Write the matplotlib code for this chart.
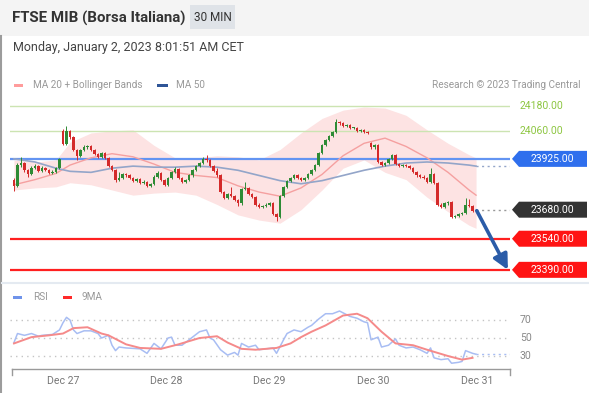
import matplotlib
matplotlib.use("Agg")
import matplotlib.pyplot as plt
from matplotlib.patches import Rectangle, Polygon
import numpy as np

plt.rcParams["font.family"] = ["Roboto", "DejaVu Sans"]

W, H = 589, 393

# 30-min candles
opens = [23825, 23795, 23895, 23905, 23870, 23850, 23880, 23890, 23865, 23880,
         23870, 23855, 23860, 23880, 24060, 23995, 24060, 24030, 23970, 23940,
         23970, 23980, 23985, 23970, 23950, 23935, 23955, 23930, 23890, 23870,
         23825, 23835, 23850, 23845, 23835, 23820, 23830, 23810, 23815, 23795,
         23805, 23840, 23855, 23825, 23800, 23835, 23860, 23875, 23835, 23815,
         23825, 23845, 23870, 23890, 23905, 23925, 23920, 23890, 23865, 23845,
         23765, 23735, 23755, 23745, 23725, 23710, 23780, 23785, 23755, 23740,
         23705, 23695, 23700, 23705, 23710, 23660, 23645, 23745, 23790, 23820,
         23835, 23845, 23835, 23825, 23835, 23850, 23870, 23895, 23955, 23990,
         24015, 24035, 24055, 24105, 24100, 24085, 24090, 24075, 24075, 24060,
         24065, 24055, 24000, 23980, 23990, 23910, 23895, 23905, 23925, 23945,
         23900, 23890, 23895, 23890, 23880, 23860, 23845, 23840, 23835, 23815,
         23850, 23810, 23705, 23695, 23710, 23715, 23645, 23650, 23660, 23665,
         23705, 23700, 23675]
highs = [23835, 23905, 23935, 23910, 23875, 23890, 23900, 23895, 23890, 23885,
         23875, 23870, 23885, 23930, 24070, 24085, 24065, 24035, 23975, 23975,
         23990, 23990, 23990, 23975, 23955, 23960, 23960, 23935, 23895, 23875,
         23860, 23855, 23855, 23850, 23840, 23835, 23835, 23825, 23820, 23810,
         23845, 23865, 23860, 23830, 23840, 23865, 23885, 23880, 23840, 23830,
         23850, 23875, 23895, 23910, 23935, 23945, 23925, 23895, 23880, 23850,
         23770, 23760, 23790, 23750, 23730, 23785, 23815, 23790, 23760, 23745,
         23710, 23705, 23710, 23715, 23715, 23665, 23750, 23795, 23825, 23840,
         23850, 23850, 23840, 23840, 23855, 23875, 23900, 23960, 23995, 24020,
         24040, 24060, 24115, 24110, 24105, 24095, 24095, 24080, 24080, 24070,
         24070, 24060, 24005, 23995, 23995, 23915, 23910, 23930, 23950, 23950,
         23905, 23900, 23900, 23895, 23885, 23865, 23850, 23845, 23840, 23880,
         23855, 23815, 23710, 23715, 23720, 23720, 23655, 23665, 23670, 23735,
         23730, 23705, 23685]
lows = [23770, 23790, 23885, 23860, 23840, 23845, 23875, 23860, 23860, 23865,
        23850, 23850, 23855, 23875, 23990, 23990, 24020, 23965, 23920, 23935,
        23965, 23975, 23965, 23945, 23930, 23930, 23925, 23885, 23865, 23815,
        23820, 23830, 23840, 23830, 23815, 23815, 23805, 23805, 23790, 23790,
        23800, 23835, 23820, 23795, 23795, 23830, 23855, 23830, 23810, 23810,
        23820, 23840, 23865, 23885, 23900, 23910, 23885, 23860, 23840, 23760,
        23730, 23730, 23740, 23720, 23700, 23705, 23775, 23750, 23735, 23700,
        23690, 23690, 23695, 23700, 23655, 23625, 23640, 23740, 23785, 23815,
        23830, 23830, 23820, 23820, 23830, 23845, 23865, 23890, 23950, 23985,
        24010, 24030, 24050, 24090, 24080, 24080, 24070, 24070, 24055, 24055,
        24050, 24045, 23975, 23975, 23905, 23890, 23890, 23900, 23920, 23895,
        23885, 23885, 23885, 23875, 23855, 23840, 23835, 23830, 23810, 23810,
        23805, 23700, 23690, 23690, 23705, 23640, 23640, 23645, 23655, 23660,
        23695, 23670, 23670]
closes = [23795, 23895, 23905, 23870, 23850, 23880, 23890, 23865, 23880, 23870,
          23855, 23860, 23880, 23925, 23995, 24060, 24030, 23970, 23940, 23970,
          23980, 23985, 23970, 23950, 23935, 23955, 23930, 23890, 23870, 23825,
          23835, 23850, 23845, 23835, 23820, 23830, 23810, 23815, 23795, 23805,
          23840, 23855, 23825, 23800, 23835, 23860, 23875, 23835, 23815, 23825,
          23845, 23870, 23890, 23905, 23925, 23920, 23890, 23865, 23845, 23765,
          23735, 23755, 23745, 23725, 23710, 23780, 23785, 23755, 23740, 23705,
          23695, 23700, 23705, 23710, 23660, 23645, 23745, 23790, 23820, 23835,
          23845, 23835, 23825, 23835, 23850, 23870, 23895, 23955, 23990, 24015,
          24035, 24055, 24105, 24100, 24085, 24090, 24075, 24075, 24060, 24065,
          24055, 24050, 23980, 23990, 23910, 23895, 23905, 23925, 23945, 23900,
          23890, 23895, 23890, 23880, 23860, 23845, 23840, 23835, 23815, 23850,
          23810, 23705, 23695, 23710, 23715, 23645, 23650, 23660, 23665, 23705,
          23700, 23675, 23680]

# indicator curves sampled at these bar numbers
band_idx = [0, 6, 12, 16, 22, 28, 34, 40, 46, 52, 58, 64, 70, 76, 82, 88,
            94, 100, 106, 112, 118, 124, 130, 132]
band_upper = [23920, 23910, 23920, 24005, 24050, 24060, 24065, 23990, 23930, 23930,
              23940, 23935, 23920, 23970, 24050, 24120, 24160, 24175, 24170, 24135,
              24065, 24000, 23945, 23930]
band_lower = [23775, 23785, 23790, 23810, 23800, 23775, 23750, 23760, 23765, 23750,
              23705, 23655, 23630, 23615, 23680, 23775, 23880, 23920, 23860, 23825,
              23740, 23670, 23605, 23590]
ma20 = [23800, 23825, 23855, 23895, 23930, 23950, 23935, 23900, 23860, 23845,
        23835, 23795, 23765, 23745, 23785, 23850, 23940, 24000, 24025, 23985,
        23930, 23860, 23775, 23750]
ma50 = [23925, 23910, 23880, 23865, 23860, 23880, 23890, 23885, 23885, 23890,
        23885, 23870, 23845, 23820, 23805, 23820, 23845, 23870, 23890, 23905,
        23910, 23905, 23895, 23890]

rsi_idx = [0, 1, 3, 5, 7, 8, 11, 13, 14, 15, 16, 17, 18, 20, 22, 24, 25, 27, 28, 29,
           30, 32, 36, 38, 40, 42, 44, 45, 46, 48, 50, 53, 55, 56, 57, 59, 61, 63, 64, 65,
           67, 69, 70, 72, 74, 75, 77, 78, 80, 82, 84, 85, 87, 89, 91, 93, 94, 96, 98, 100,
           101, 102, 104, 105, 107, 109, 110, 112, 114, 116, 118, 119, 120, 122, 124, 125,
           127, 128, 129, 131, 132]
rsi_val = [45, 55, 53, 55, 52, 53, 54, 59, 67, 73, 70, 59, 55, 58, 58, 55, 50, 53, 42, 36,
           40, 39, 38, 33, 44, 38, 50, 51, 42, 42, 48, 57, 59, 50, 48, 37, 31, 34, 31, 44,
           40, 42, 37, 38, 39, 33, 48, 55, 59, 57, 62, 64, 71, 77, 77, 80, 78, 74, 72, 68,
           67, 48, 51, 40, 42, 49, 42, 39, 40, 37, 33, 39, 28, 26, 27, 22,
           23, 24, 36, 33, 32]
rsi_ma_idx = [0, 5, 10, 14, 17, 21, 25, 27, 32, 36, 42, 47, 53, 58, 61, 65,
              69, 75, 79, 82, 85, 89, 94, 98, 101, 105, 109, 114, 118, 124, 128, 131]
rsi_ma_val = [44, 51, 53, 55, 61, 62, 55, 53, 43, 39, 38, 43, 50, 52, 45, 38,
              37, 39, 44, 51, 57, 64, 75, 77, 72, 57, 44, 42, 37, 30, 26, 28]
rsi_levels = [70, 50, 30]

resistances = [24180, 24060]
pivot = 23925
last_price = 23680
supports = [23540, 23390]
target = 23390

day_ticks = [14, 43.5, 73, 102.5, 132.3]
day_labels = ["Dec 27", "Dec 28", "Dec 29", "Dec 30", "Dec 31"]

GREEN, RED = "#2e8b35", "#d42a2a"

fig = plt.figure(figsize=(W / 100, H / 100), dpi=100)


def px_axes(x0, y0, x1, y1, **kw):
    return fig.add_axes([x0 / W, 1 - y1 / H, (x1 - x0) / W, (y1 - y0) / H], **kw)


XLIM = (-1.14, 141.7)

# price panel
ax = px_axes(10, 95, 510, 280)
ax.set_xlim(*XLIM)
ax.set_ylim(23341, 24233)
ax.axis("off")

ax.fill_between(band_idx, band_lower, band_upper, color="#fde3e3", lw=0, zorder=1)
ax.plot(band_idx, ma20, color="#f5a0a0", lw=1, zorder=2)
ax.plot(band_idx, ma50, color="#93a5c9", lw=1.2, zorder=2)
ax.plot([band_idx[-1], XLIM[1]], [ma50[-1]] * 2, ls=(0, (1.5, 2.5)), color="#93a5c9", lw=1, zorder=2)

for r in resistances:
    ax.axhline(r, color="#cce4b2", lw=1, zorder=1.5)
ax.axhline(pivot, color="#6394f2", lw=1.6, zorder=1.5)
for s in supports:
    ax.axhline(s, color="#ff2020", lw=1.6, zorder=1.5)

idx = np.arange(len(closes))
o = np.array(opens)
c = np.array(closes)
col = np.where(c >= o, GREEN, RED)
ax.vlines(idx, lows, highs, colors=col, lw=0.7, zorder=3)
body = np.where(np.abs(c - o) < 3, 3, c - o)
ax.bar(idx, body, bottom=o, width=0.78, color=col, lw=0, zorder=4)

ax.plot([idx[-1], XLIM[1]], [last_price] * 2, ls=(0, (1.5, 2.5)), color="#999999", lw=1, zorder=2)
ax.annotate("", xy=(141.1, target), xytext=(idx[-1] + 0.2, last_price - 5),
            arrowprops=dict(arrowstyle="-|>,head_length=0.9,head_width=0.45",
                            color="#2b5ca8", lw=2.6, shrinkA=0, shrinkB=0),
            annotation_clip=False, zorder=6)

# RSI panel
rax = px_axes(10, 305, 510, 368)
rax.set_xlim(*XLIM)
rax.set_ylim(16.7, 86.7)
rax.axis("off")
for lv in rsi_levels:
    rax.axhline(lv, ls=(0, (1, 3)), color="#c4c4c4", lw=1)
rax.plot(rsi_idx, rsi_val, color="#a8bdf3", lw=1.1)
rax.plot(rsi_ma_idx, rsi_ma_val, color="#f58a8a", lw=1.4)
rax.plot([rsi_idx[-1], XLIM[1]], [rsi_val[-1]] * 2, ls=(0, (1.5, 2.5)), color="#a8bdf3", lw=1)

# overlay in pixel coordinates for the chrome
ov = fig.add_axes([0, 0, 1, 1], zorder=5)
ov.set_xlim(0, W)
ov.set_ylim(H, 0)
ov.axis("off")
ov.patch.set_alpha(0)


def py(axis, v):
    return H - axis.transData.transform((0, v))[1]


def px(axis, i):
    return axis.transData.transform((i, 0))[0]


ov.add_patch(Rectangle((0, 0), W, 36, fc="#f4f4f4", ec="none"))
ov.text(12, 18, "FTSE MIB (Borsa Italiana)", fontsize=10.8, fontweight="bold",
        color="#333333", va="center")
ov.add_patch(Rectangle((190, 5), 45, 24, fc="#dfe3e8", ec="none"))
ov.text(212.5, 17.5, "30 MIN", fontsize=8.5, color="#333333", ha="center", va="center")
ov.text(13, 47, "Monday, January 2, 2023 8:01:51 AM CET", fontsize=9,
        color="#444444", va="center")
ov.plot([1.2, 1.2], [36, H], color="#9c9c9c", lw=1.5)
ov.plot([2, W], [283, 283], color="#e4eaf1", lw=1.5)

# legends
ov.add_patch(Rectangle((14, 83.5), 9, 3.5, fc="#ff9c9c", ec="none"))
ov.text(33, 85, "MA 20 + Bollinger Bands", fontsize=7.2, color="#999999", va="center")
ov.add_patch(Rectangle((157, 83.5), 11, 3.5, fc="#2f5597", ec="none"))
ov.text(176, 85, "MA 50", fontsize=7.2, color="#999999", va="center")
ov.text(581, 85, "Research \u00a9 2023 Trading Central", fontsize=7.2, color="#999999",
        ha="right", va="center")
ov.add_patch(Rectangle((13, 295.5), 9, 3.5, fc="#6f93ea", ec="none"))
ov.text(33, 297, "RSI", fontsize=7.2, color="#999999", va="center")
ov.add_patch(Rectangle((63, 295.5), 9, 3.5, fc="#ff2a2a", ec="none"))
ov.text(82, 297, "9MA", fontsize=7.2, color="#999999", va="center")

# price tags
for r in resistances:
    ov.text(520, py(ax, r), f"{r:.2f}", fontsize=7.5, color="#8dc641", va="center")


def tag(v, face):
    y = py(ax, v)
    ov.add_patch(Polygon([(512, y), (519, y - 8), (587, y - 8), (587, y + 8), (519, y + 8)],
                         closed=True, fc=face, ec="none"))
    ov.text(552, y, f"{v:.2f}", fontsize=7.5, color="white", ha="center", va="center")


tag(pivot, "#2f6fed")
tag(last_price, "#333333")
for s in supports:
    tag(s, "#ff1414")

for lv in rsi_levels:
    ov.text(520, py(rax, lv), str(lv), fontsize=7.5, color="#888888", va="center")

# time axis
ov.plot([12, 510], [369, 369], color="#9a9a9a", lw=1)
ov.plot([12, 12], [369, 375], color="#9a9a9a", lw=1)
ov.plot([510, 510], [369, 375], color="#9a9a9a", lw=1)
for t, lab in zip(day_ticks, day_labels):
    ov.text(px(rax, t), 381, lab, fontsize=7.6, color="#777777", ha="center", va="center")

fig.savefig("out.png", dpi=100)
